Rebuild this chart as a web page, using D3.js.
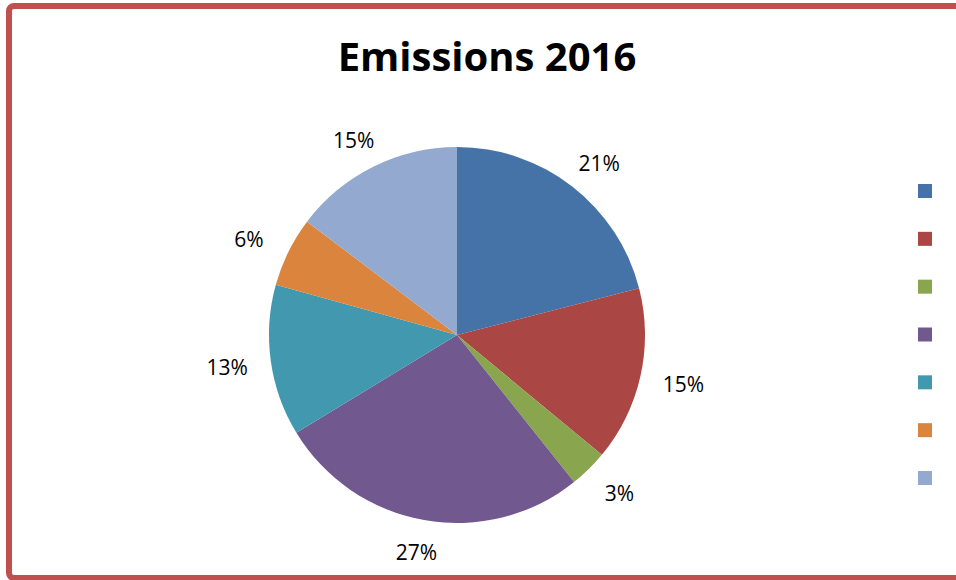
<!DOCTYPE html>
<html>
<head>
<meta charset="utf-8">
<script src="https://cdn.jsdelivr.net/npm/d3@7"></script>
<style>
  html, body { margin: 0; padding: 0; background: #fff; overflow: hidden; }
</style>
</head>
<body>
<div id="chart"></div>
<script>
// data
const title = "Emissions 2016";
const shares = [21, 15, 3.3, 27, 13, 6, 14.7];
const labels = ["21%", "15%", "3%", "27%", "13%", "6%", "15%"];
const colors = ["#4572A7", "#AA4643", "#89A54E", "#71588F", "#4198AF", "#DB843D", "#93A9CF"];

const width = 956, height = 580;

const svg = d3.select("#chart").append("svg")
    .attr("width", width)
    .attr("height", height);

// frame
svg.append("rect")
    .attr("x", 9).attr("y", 6)
    .attr("width", width + 20).attr("height", 572)
    .attr("rx", 5)
    .attr("fill", "#fff")
    .attr("stroke", "#C0504D")
    .attr("stroke-width", 6);

// title
svg.append("text")
    .attr("x", 487).attr("y", 71)
    .attr("text-anchor", "middle")
    .style("font-family", "'Open Sans', sans-serif")
    .style("font-weight", 700)
    .style("font-size", "40px")
    .attr("fill", "#000")
    .text(title);

// pie
const cx = 457, cy = 335, r = 188;
const g = svg.append("g").attr("transform", `translate(${cx},${cy})`);

const pie = d3.pie().sort(null).value(d => d);
const arcs = pie(shares);
const arc = d3.arc().innerRadius(0).outerRadius(r);

g.selectAll("path")
    .data(arcs)
    .enter().append("path")
    .attr("d", arc)
    .attr("fill", (d, i) => colors[i]);

// outside-end labels: push out along the mid angle, plus half the label box
function labelPos(d) {
    const a = (d.startAngle + d.endAngle) / 2;
    const s = Math.sin(a), c = Math.cos(a);
    return [s * (212 + 20), -c * (212 + 7)];
}

g.selectAll(".lbl")
    .data(arcs)
    .enter().append("text")
    .attr("class", "lbl")
    .attr("transform", d => `translate(${labelPos(d)})`)
    .attr("text-anchor", "middle")
    .attr("dy", "0.45em")
    .style("font-family", "'Open Sans', sans-serif")
    .style("font-size", "21px")
    .attr("fill", "#000")
    .text((d, i) => labels[i]);

// legend (labels are cut off at the right edge)
const legendY = d3.scalePoint().domain(d3.range(shares.length)).range([184, 471]);
svg.selectAll(".key")
    .data(colors)
    .enter().append("rect")
    .attr("class", "key")
    .attr("x", 918)
    .attr("y", (d, i) => legendY(i))
    .attr("width", 14).attr("height", 14)
    .attr("fill", d => d);
</script>
</body>
</html>
